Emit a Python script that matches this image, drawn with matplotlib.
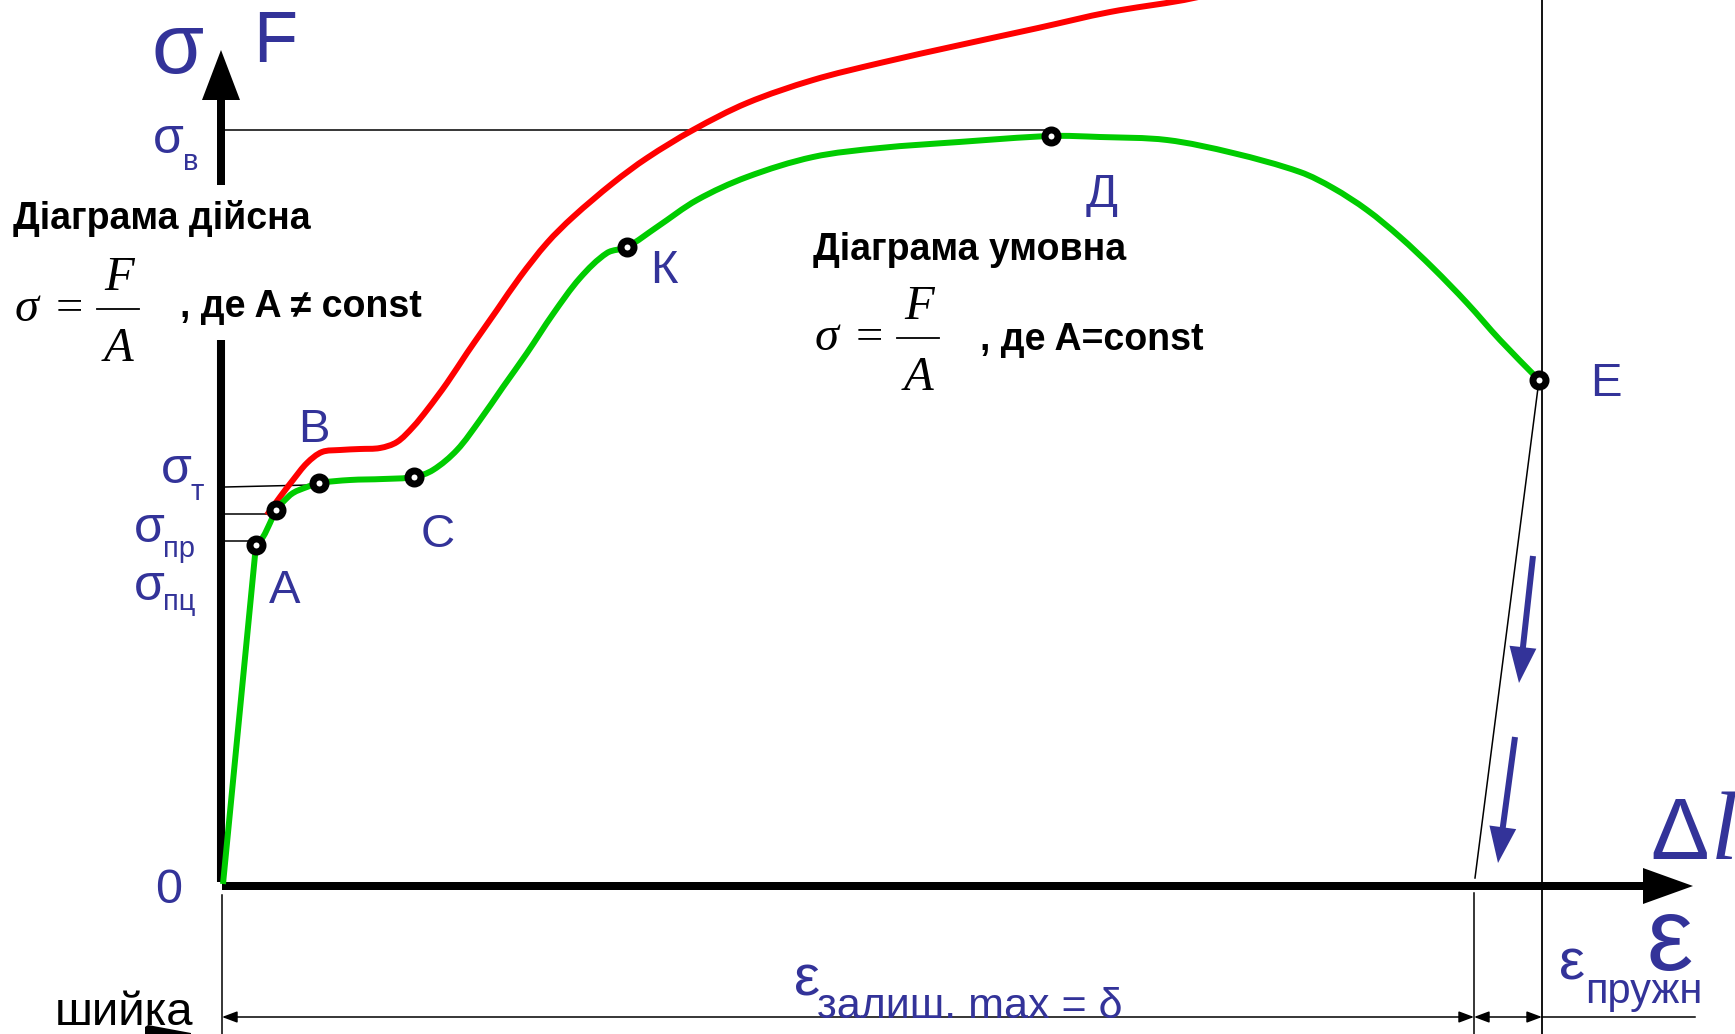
import numpy as np
import matplotlib.pyplot as plt
from matplotlib.path import Path
from matplotlib.patches import PathPatch

plt.rcParams['font.family'] = ['Liberation Sans', 'DejaVu Sans']

BLUE = '#333399'
GREEN = '#00cc00'
RED = '#ff0000'

# умовна діаграма (зусилля / початкова площа), Δl -> σ
eps_cond = [1, 34, 41, 48, 54, 61, 71, 85, 97, 128, 161, 192, 211, 235, 258,
            281, 305, 331, 358, 385, 405, 435, 475, 525, 591, 658, 737, 829,
            878, 945, 1011, 1078, 1111, 1145, 1178, 1211, 1245, 1278, 1317]
sig_cond = [2, 341, 349, 363, 376, 384, 393, 399, 403, 406, 407, 409, 416, 436,
            466, 499, 533, 572, 608, 633, 639, 659, 686, 709, 729, 738, 744,
            750, 749, 746, 733, 714, 698, 676, 649, 618, 583, 546, 506]

# дійсна діаграма (зусилля / поточна площа)
eps_true = [45, 58, 71, 85, 100, 118, 138, 158, 175, 191, 205, 225, 245, 261,
            275, 298, 325, 351, 391, 425, 471, 525, 591, 658, 738, 816, 888,
            962, 998]
sig_true = [371, 389, 406, 423, 434, 436, 437, 438, 444, 459, 476, 503, 533,
            556, 576, 609, 643, 669, 703, 728, 756, 783, 806, 823, 841, 858,
            874, 886, 894]

# характерні точки: A, межа пружності, межа текучості, C, K, Д, E
pt_eps = [34, 54, 97, 192, 405, 829, 1317]
pt_sig = [341, 376, 403, 409, 639, 750, 506]

# рівні напружень на осі
sig_v = 756
sig_t = (399, 401)
sig_pr = 372
sig_pc = 345

# розвантаження з точки E
eps_resid = 1252
eps_total = 1320


def smooth_path(xs, ys):
    """Гладка крива через задані точки (кубічні сегменти Безьє)."""
    p = np.column_stack([xs, ys]).astype(float)
    n = len(p)
    tang = np.zeros_like(p)
    for i in range(n):
        a = p[max(i - 1, 0)]
        c = p[min(i + 1, n - 1)]
        d = np.hypot(*(c - a))
        tang[i] = (c - a) / d if d else 0
    verts = [p[0]]
    codes = [Path.MOVETO]
    for i in range(n - 1):
        seg = np.hypot(*(p[i + 1] - p[i]))
        verts += [p[i] + tang[i] * seg / 3, p[i + 1] - tang[i + 1] * seg / 3,
                  p[i + 1]]
        codes += [Path.CURVE4] * 3
    return Path(verts, codes)


fig = plt.figure(figsize=(17.35, 10.34), dpi=100)
ax = fig.add_axes([0, 0, 1, 1])
ax.set_xlim(-222, 1513)
ax.set_ylim(-148, 886)
ax.axis('off')

# осі
ax.plot([-1, -1], [4, 546], color='black', lw=5.8, solid_capstyle='butt')
ax.arrow(-1, 701, 0, 135, width=8, head_width=38, head_length=50,
         length_includes_head=True, color='black', lw=0)
ax.arrow(0, 0, 1471, 0, width=8, head_width=36, head_length=50,
         length_includes_head=True, color='black', lw=0)

# допоміжні лінії
thin = dict(color='black', lw=1.1)
ax.plot([3, pt_eps[5] - 4], [sig_v, sig_v], **thin)
ax.plot([3, 88], list(sig_t), **thin)
ax.plot([3, pt_eps[1]], [sig_pr, sig_pr], **thin)
ax.plot([3, pt_eps[0]], [sig_pc, sig_pc], **thin)
ax.plot([pt_eps[6], eps_resid + 1], [pt_sig[6], 8], **thin)
ax.plot([eps_resid, eps_resid], [-7, -148], **thin)
ax.plot([eps_total, eps_total], [-148, 886], color='black', lw=1.3)
ax.plot([0, 0], [-9, -148], **thin)

# розмірні лінії
dim = dict(arrowstyle='<|-|>,head_length=0.4,head_width=0.15',
           mutation_scale=23, lw=1.1, color='black', shrinkA=0, shrinkB=0)
ax.annotate('', xy=(0, -131), xytext=(eps_resid, -131), arrowprops=dim)
ax.annotate('', xy=(eps_resid, -131), xytext=(eps_total, -131), arrowprops=dim)
ax.plot([eps_total, 1473], [-131, -131], **thin)

# криві: пружна ділянка пряма, далі плавна лінія
curve = dict(fill=False, lw=4.3, capstyle='butt', joinstyle='round', zorder=3)
ax.add_patch(PathPatch(smooth_path(eps_true, sig_true), ec=RED, **curve))
ax.plot(eps_cond[:2], sig_cond[:2], color=GREEN, lw=4.3,
        solid_capstyle='butt', zorder=3)
ax.add_patch(PathPatch(smooth_path(eps_cond[1:], sig_cond[1:]), ec=GREEN,
                       **curve))
ax.plot(pt_eps, pt_sig, 'o', ms=9.4, mew=5, mfc='white', mec='black',
        zorder=4)

# стрілки розвантаження
for (x0, y0), (x1, y1) in [((1311, 330), (1297, 203)),
                           ((1293, 149), (1276, 23))]:
    ax.arrow(x0, y0, x1 - x0, y1 - y0, width=6, head_width=27,
             head_length=36, length_includes_head=True, color=BLUE, lw=0,
             zorder=5)

ax.fill([-77, -74, -31, -31, -77], [-141, -139, -147, -148, -148],
        color='black', lw=0)

# підписи осей
t = dict(color=BLUE, va='baseline')
ax.text(-44, 813, 'σ', fontsize=61, ha='center', **t)
ax.text(31, 824, 'F', fontsize=52, **t)
ax.text(-53, -17, '0', fontsize=35, ha='center', **t)
ax.text(1428, 27, 'Δ', fontsize=63, **t)
ax.text(1489, 27, 'l', fontsize=70, family='Liberation Serif',
        style='italic', **t)
ax.text(1424, -84, 'ε', fontsize=75, **t)

# рівні напружень
for s, sub, xs, ys, xb, yb in [('σ', 'в', -69, 733, -39, 716),
                                ('σ', 'т', -61, 403, -32, 386),
                                ('σ', 'пр', -88, 344, -59, 329),
                                ('σ', 'пц', -88, 286, -59, 276)]:
    ax.text(xs, ys, s, fontsize=36, **t)
    ax.text(xb, yb, sub, fontsize=21, **t)

# підписи точок
for name, x, y in [('A', 47, 283), ('B', 76, 444), ('C', 199, 339),
                   ('К', 428, 603), ('Д', 864, 679), ('E', 1368, 490)]:
    ax.text(x, y, name, fontsize=34, **t)

# деформації
ax.text(1337, -94, 'ε', fontsize=42, **t)
ax.text(1363, -117, 'пружн', fontsize=30, **t)
ax.text(572, -109, 'ε', fontsize=42, **t)
ax.text(595, -132, 'залиш. max = δ', fontsize=31, **t)
ax.text(-167, -139, 'шийка', fontsize=34, color='black', va='baseline')

# пояснення до діаграм
b = dict(color='black', va='baseline', fontweight='bold', fontsize=27)
ax.text(-209, 657, 'Діаграма дійсна', **b)
ax.text(-42, 569, ', де A ≠ const', **b)
ax.text(591, 626, 'Діаграма умовна', **b)
ax.text(758, 536, ', де A=const', **b)

# формула σ = F / A
m = dict(color='black', va='baseline', fontsize=35, family='Liberation Serif')
for dx, dy in [(0, 0), (800, -29)]:
    ax.text(-207 + dx, 565 + dy, 'σ', style='italic', **m)
    ax.text(-166 + dx, 565 + dy, '=', **m)
    ax.text(-103 + dx, 596 + dy, 'F', style='italic', ha='center', **m)
    ax.text(-103 + dx, 525 + dy, 'A', style='italic', ha='center', **m)
    ax.plot([-125 + dx, -83 + dx], [577 + dy, 577 + dy], color='black',
            lw=1.3)

fig.savefig('out.png', dpi=100)
